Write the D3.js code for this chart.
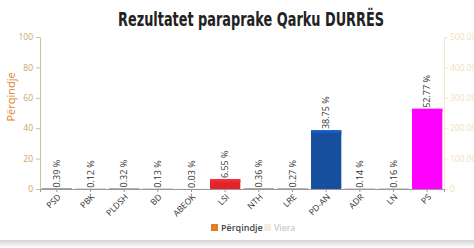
<!DOCTYPE html>
<html lang="en">
<head>
<meta charset="utf-8">
<title>Rezultatet paraprake Qarku DURRËS</title>
<script src="https://d3js.org/d3.v7.min.js"></script>
<style>
  body { margin: 0; background: #fff; }
  text { font-family: "Open Sans", "DejaVu Sans", sans-serif; }
</style>
</head>
<body>
<script>
// party names and percentages
var parties = ["PSD", "PBK", "PLDSH", "BD", "ABEOK", "LSI", "NTH", "LRE", "PD-AN", "ADR", "LN", "PS"];
var percents = [0.39, 0.12, 0.32, 0.13, 0.03, 6.55, 0.36, 0.27, 38.75, 0.14, 0.16, 52.77];
var barColors = ["#7a7a7a", "#7a7a7a", "#7a7a7a", "#7a7a7a", "#7a7a7a", "#e0242c", "#7a7a7a", "#7a7a7a", "#154f9e", "#7a7a7a", "#7a7a7a", "#ff00ff"];
var leftTicks = [0, 20, 40, 60, 80, 100];
var rightTicks = [0, 100000, 200000, 300000, 400000, 500000];
var legendItems = ["Përqindje", "Viera"];

var w = 474, h = 248;
var svg = d3.select("body").append("svg").attr("width", w).attr("height", h);

var x = d3.scaleBand().domain(parties).range([40, 444]).paddingInner(0.1).paddingOuter(0.05);
var y = d3.scaleLinear().domain([0, 100]).range([189, 37]);
var y2 = d3.scaleLinear().domain([0, 500000]).range([189, 37]);

// title (condensed look)
svg.append("text")
    .attr("x", 118).attr("y", 26)
    .attr("textLength", 266)
    .attr("lengthAdjust", "spacingAndGlyphs")
    .style("font-family", "'DejaVu Sans', sans-serif")
    .style("font-weight", "bold")
    .style("font-size", "20px")
    .attr("fill", "#222")
    .text("Rezultatet paraprake Qarku DURRËS");

// left axis
var gl = svg.append("g").attr("transform", "translate(40,0)")
    .call(d3.axisLeft(y).tickValues(leftTicks).tickSize(4).tickPadding(3));
gl.select(".domain").attr("stroke", "#cfc0a0");
gl.selectAll(".tick line").attr("stroke", "#cfc0a0");
gl.selectAll(".tick text").attr("fill", "#c8a46c").style("font-size", "8.5px");

svg.append("text")
    .attr("transform", "translate(15,97) rotate(-90)")
    .attr("text-anchor", "middle")
    .attr("fill", "#e07f26")
    .style("font-size", "11px")
    .text("Përqindje");

// right axis
var gr = svg.append("g").attr("transform", "translate(444,0)")
    .call(d3.axisRight(y2).tickValues(rightTicks).tickSize(4).tickPadding(2)
        .tickFormat(function(d) { return d === 0 ? "0" : d3.format(",.3f")(d / 1000); }));
gr.select(".domain").attr("stroke", "#f3e8d2");
gr.selectAll(".tick line").attr("stroke", "#f3e8d2");
gr.selectAll(".tick text").attr("fill", "#f0dfbc").style("font-size", "8.5px");

// bars
var bars = svg.append("g");
var gradId = function(i) { return "g" + i; };
var defs = svg.append("defs");
parties.forEach(function(p, i) {
  var lg = defs.append("linearGradient").attr("id", gradId(i)).attr("x1", 0).attr("x2", 0).attr("y1", 0).attr("y2", 1);
  var c = d3.color(barColors[i]);
  lg.append("stop").attr("offset", "0%").attr("stop-color", c.brighter(0.8));
  lg.append("stop").attr("offset", "100%").attr("stop-color", c);
});

bars.selectAll("rect.bar")
  .data(percents)
  .enter().append("rect")
    .attr("class", "bar")
    .attr("x", function(d, i) { return x(parties[i]); })
    .attr("y", function(d) { return y(d); })
    .attr("width", x.bandwidth())
    .attr("height", function(d) { return y(0) - y(d); })
    .attr("fill", function(d, i) { return barColors[i]; });

bars.selectAll("rect.top")
  .data(percents)
  .enter().append("rect")
    .attr("class", "top")
    .attr("x", function(d, i) { return x(parties[i]); })
    .attr("y", function(d) { return y(d); })
    .attr("width", x.bandwidth())
    .attr("height", function(d) { return Math.min(4, y(0) - y(d)); })
    .attr("fill", function(d, i) { return "url(#" + gradId(i) + ")"; });

// bottom axis
var gb = svg.append("g").attr("transform", "translate(0,189)")
    .call(d3.axisBottom(x).tickSize(3).tickPadding(2));
gb.select(".domain").attr("stroke", "#999");
gb.selectAll(".tick line").attr("stroke", "#999");
gb.selectAll(".tick text")
    .attr("fill", "#333")
    .style("font-size", "8.5px")
    .attr("text-anchor", "end")
    .attr("transform", "translate(-2,2) rotate(-45)")
    .attr("dy", "0.5em");

// value labels
svg.append("g").selectAll("text")
  .data(percents)
  .enter().append("text")
    .attr("transform", function(d, i) {
      return "translate(" + (x(parties[i]) + x.bandwidth() / 2 + 3) + "," + (y(d) - 1) + ") rotate(-90)";
    })
    .attr("fill", "#333")
    .style("font-size", "9px")
    .text(function(d) { return d3.format(".2f")(d) + " %"; });

// legend
var legendColors = ["#e07f26", "#f6ecdb"];
var legendText = ["#444", "#bbb"];
var legendX = [211, 264];
legendItems.forEach(function(t, i) {
  svg.append("rect").attr("x", legendX[i]).attr("y", 224).attr("width", 7).attr("height", 7).attr("fill", legendColors[i]);
  svg.append("text").attr("x", legendX[i] + 10).attr("y", 231)
     .attr("fill", legendText[i]).style("font-size", "9px")
     .style("font-weight", i === 0 ? "600" : "normal").text(t);
});

// bottom shadow
var sh = defs.append("linearGradient").attr("id", "shadow").attr("x1", 0).attr("x2", 0).attr("y1", 0).attr("y2", 1);
sh.append("stop").attr("offset", "0%").attr("stop-color", "#d4d4d4");
sh.append("stop").attr("offset", "100%").attr("stop-color", "#ffffff");
svg.append("rect").attr("x", 0).attr("y", 240).attr("width", w).attr("height", 8).attr("fill", "url(#shadow)");
</script>
</body>
</html>
